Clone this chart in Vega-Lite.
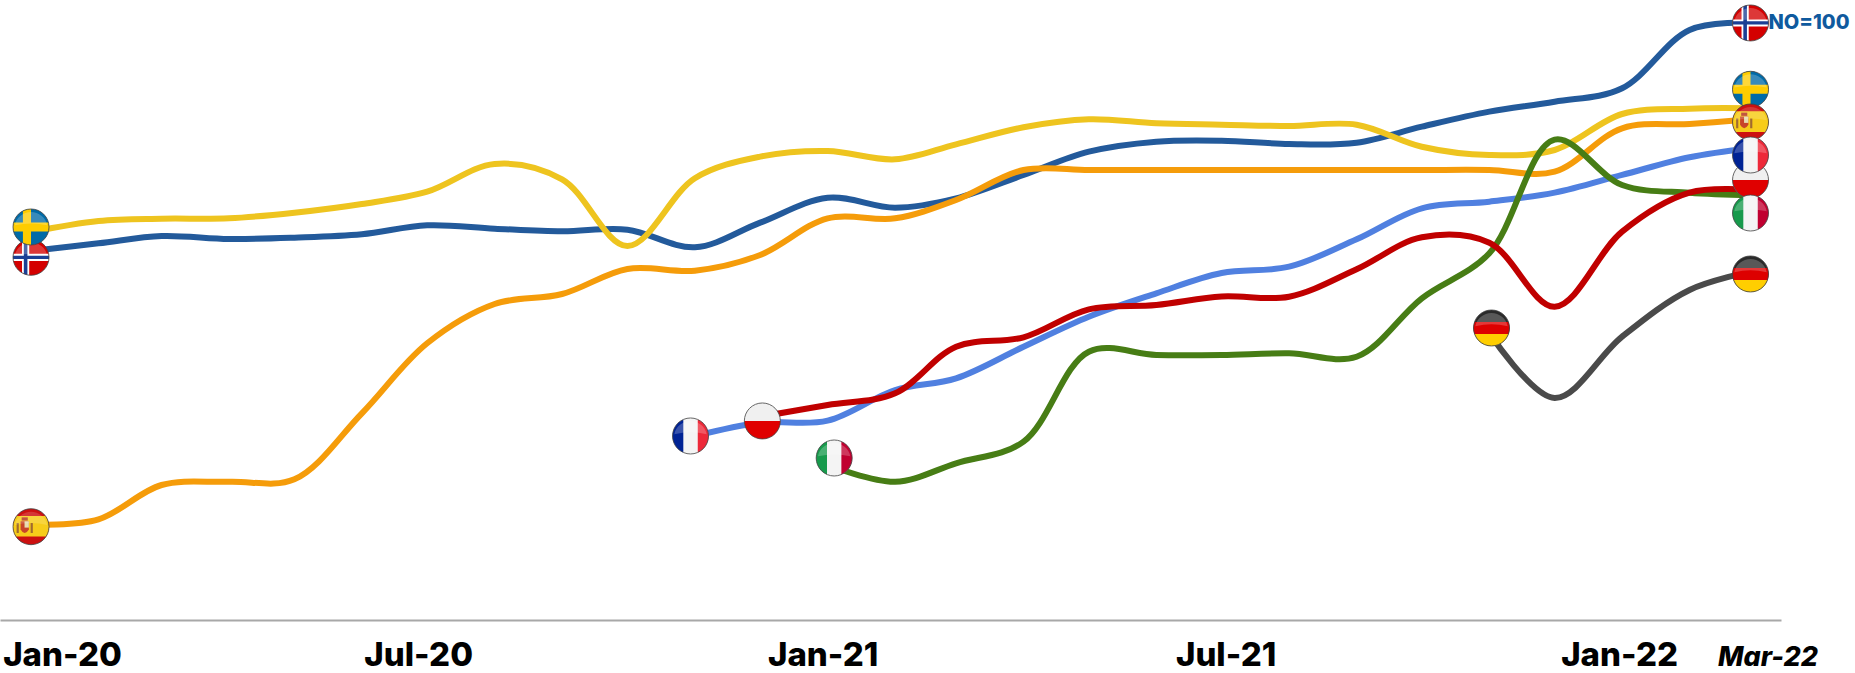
{"$schema":"https://vega.github.io/schema/vega-lite/v6.json","width":1781,"height":620,"autosize":"none","padding":{"left":0,"top":0,"right":74,"bottom":53},"background":"white","config":{"view":{"stroke":null}},
"datasets":{"series":[
{"c":"Germany","d":"2021-11-01","v":48.28},{"c":"Germany","d":"2021-12-01","v":37.45},{"c":"Germany","d":"2022-01-01","v":47.67},{"c":"Germany","d":"2022-02-01","v":55.45},{"c":"Germany","d":"2022-03-01","v":58.5},
{"c":"Norway","d":"2020-01-01","v":61.95},{"c":"Norway","d":"2020-02-01","v":63.23},{"c":"Norway","d":"2020-03-01","v":64.45},{"c":"Norway","d":"2020-04-01","v":63.95},{"c":"Norway","d":"2020-05-01","v":64.17},{"c":"Norway","d":"2020-06-01","v":64.73},{"c":"Norway","d":"2020-07-01","v":66.23},{"c":"Norway","d":"2020-08-01","v":65.67},{"c":"Norway","d":"2020-09-01","v":65.23},{"c":"Norway","d":"2020-10-01","v":65.5},{"c":"Norway","d":"2020-11-01","v":62.57},{"c":"Norway","d":"2020-12-01","v":66.67},{"c":"Norway","d":"2021-01-01","v":70.83},{"c":"Norway","d":"2021-02-01","v":69.17},{"c":"Norway","d":"2021-03-01","v":70.73},{"c":"Norway","d":"2021-04-01","v":74.62},{"c":"Norway","d":"2021-05-01","v":78.5},{"c":"Norway","d":"2021-06-01","v":80.17},{"c":"Norway","d":"2021-07-01","v":80.33},{"c":"Norway","d":"2021-08-01","v":79.78},{"c":"Norway","d":"2021-09-01","v":80},{"c":"Norway","d":"2021-10-01","v":82.67},{"c":"Norway","d":"2021-11-01","v":85.17},{"c":"Norway","d":"2021-12-01","v":86.83},{"c":"Norway","d":"2022-01-01","v":89.07},{"c":"Norway","d":"2022-02-01","v":98.78},{"c":"Norway","d":"2022-03-01","v":100},
{"c":"France","d":"2020-11-01","v":31.12},{"c":"France","d":"2020-12-01","v":33.33},{"c":"France","d":"2021-01-01","v":33.67},{"c":"France","d":"2021-02-01","v":38.78},{"c":"France","d":"2021-03-01","v":40.73},{"c":"France","d":"2021-04-01","v":46},{"c":"France","d":"2021-05-01","v":51},{"c":"France","d":"2021-06-01","v":54.9},{"c":"France","d":"2021-07-01","v":58.28},{"c":"France","d":"2021-08-01","v":59.33},{"c":"France","d":"2021-09-01","v":63.9},{"c":"France","d":"2021-10-01","v":69.07},{"c":"France","d":"2021-11-01","v":70.17},{"c":"France","d":"2021-12-01","v":71.67},{"c":"France","d":"2022-01-01","v":74.62},{"c":"France","d":"2022-02-01","v":77.57},{"c":"France","d":"2022-03-01","v":79.07},
{"c":"Spain","d":"2020-01-01","v":16.28},{"c":"Spain","d":"2020-02-01","v":17.23},{"c":"Spain","d":"2020-03-01","v":22.95},{"c":"Spain","d":"2020-04-01","v":23.5},{"c":"Spain","d":"2020-05-01","v":23.9},{"c":"Spain","d":"2020-06-01","v":34.9},{"c":"Spain","d":"2020-07-01","v":46.57},{"c":"Spain","d":"2020-08-01","v":53.12},{"c":"Spain","d":"2020-09-01","v":54.78},{"c":"Spain","d":"2020-10-01","v":58.95},{"c":"Spain","d":"2020-11-01","v":58.67},{"c":"Spain","d":"2020-12-01","v":61.28},{"c":"Spain","d":"2021-01-01","v":67.4},{"c":"Spain","d":"2021-02-01","v":67.4},{"c":"Spain","d":"2021-03-01","v":70.45},{"c":"Spain","d":"2021-04-01","v":75.45},{"c":"Spain","d":"2021-05-01","v":75.45},{"c":"Spain","d":"2021-06-01","v":75.45},{"c":"Spain","d":"2021-07-01","v":75.45},{"c":"Spain","d":"2021-08-01","v":75.45},{"c":"Spain","d":"2021-09-01","v":75.45},{"c":"Spain","d":"2021-10-01","v":75.45},{"c":"Spain","d":"2021-11-01","v":75.45},{"c":"Spain","d":"2021-12-01","v":75.17},{"c":"Spain","d":"2022-01-01","v":82.4},{"c":"Spain","d":"2022-02-01","v":83.12},{"c":"Spain","d":"2022-03-01","v":83.9},
{"c":"Sweden","d":"2020-01-01","v":65.1},{"c":"Sweden","d":"2020-02-01","v":66.95},{"c":"Sweden","d":"2020-03-01","v":67.33},{"c":"Sweden","d":"2020-04-01","v":67.4},{"c":"Sweden","d":"2020-05-01","v":68.33},{"c":"Sweden","d":"2020-06-01","v":69.78},{"c":"Sweden","d":"2020-07-01","v":71.83},{"c":"Sweden","d":"2020-08-01","v":76.45},{"c":"Sweden","d":"2020-09-01","v":73.9},{"c":"Sweden","d":"2020-10-01","v":62.78},{"c":"Sweden","d":"2020-11-01","v":74.07},{"c":"Sweden","d":"2020-12-01","v":77.67},{"c":"Sweden","d":"2021-01-01","v":78.62},{"c":"Sweden","d":"2021-02-01","v":77.23},{"c":"Sweden","d":"2021-03-01","v":79.73},{"c":"Sweden","d":"2021-04-01","v":82.57},{"c":"Sweden","d":"2021-05-01","v":83.9},{"c":"Sweden","d":"2021-06-01","v":83.23},{"c":"Sweden","d":"2021-07-01","v":83},{"c":"Sweden","d":"2021-08-01","v":82.78},{"c":"Sweden","d":"2021-09-01","v":83},{"c":"Sweden","d":"2021-10-01","v":79.33},{"c":"Sweden","d":"2021-11-01","v":77.95},{"c":"Sweden","d":"2021-12-01","v":78.78},{"c":"Sweden","d":"2022-01-01","v":84.78},{"c":"Sweden","d":"2022-02-01","v":85.67},{"c":"Sweden","d":"2022-03-01","v":85.73},
{"c":"Italy","d":"2021-01-01","v":26.28},{"c":"Italy","d":"2021-02-01","v":23.5},{"c":"Italy","d":"2021-03-01","v":26.57},{"c":"Italy","d":"2021-04-01","v":30.17},{"c":"Italy","d":"2021-05-01","v":45.17},{"c":"Italy","d":"2021-06-01","v":44.62},{"c":"Italy","d":"2021-07-01","v":44.62},{"c":"Italy","d":"2021-08-01","v":44.9},{"c":"Italy","d":"2021-09-01","v":44.33},{"c":"Italy","d":"2021-10-01","v":54.07},{"c":"Italy","d":"2021-11-01","v":61.57},{"c":"Italy","d":"2021-12-01","v":80.5},{"c":"Italy","d":"2022-01-01","v":72.95},{"c":"Italy","d":"2022-02-01","v":71.67},{"c":"Italy","d":"2022-03-01","v":71.28},
{"c":"Poland","d":"2020-12-01","v":34.33},{"c":"Poland","d":"2021-01-01","v":36.28},{"c":"Poland","d":"2021-02-01","v":38.23},{"c":"Poland","d":"2021-03-01","v":46},{"c":"Poland","d":"2021-04-01","v":47.57},{"c":"Poland","d":"2021-05-01","v":52.23},{"c":"Poland","d":"2021-06-01","v":52.95},{"c":"Poland","d":"2021-07-01","v":54.37},{"c":"Poland","d":"2021-08-01","v":54.33},{"c":"Poland","d":"2021-09-01","v":58.9},{"c":"Poland","d":"2021-10-01","v":64.23},{"c":"Poland","d":"2021-11-01","v":63.33},{"c":"Poland","d":"2021-12-01","v":52.67},{"c":"Poland","d":"2022-01-01","v":65.17},{"c":"Poland","d":"2022-02-01","v":71.67},{"c":"Poland","d":"2022-03-01","v":72.12}
],
"flags":[
{"c":"Norway","d":"2020-01-01","v":60.9},{"c":"Sweden","d":"2020-01-01","v":65.95},{"c":"Spain","d":"2020-01-01","v":16},{"c":"France","d":"2020-10-30","v":31.12},{"c":"Poland","d":"2020-12-02","v":33.62},{"c":"Italy","d":"2021-01-04","v":27.45},{"c":"Germany","d":"2021-11-02","v":49.12},
{"c":"Norway","d":"2022-03-01","v":99.95,"label":"NO=100"},{"c":"Sweden","d":"2022-03-01","v":88.9},{"c":"Spain","d":"2022-03-01","v":83.45},{"c":"France","d":"2022-03-01","v":77.95},{"c":"Poland","d":"2022-03-01","v":73.78},{"c":"Italy","d":"2022-03-01","v":68.28},{"c":"Germany","d":"2022-03-01","v":58.12}
]},
"encoding":{"x":{"field":"d","type":"temporal","scale":{"type":"utc","domain":["2019-12-17T18:00:00Z","2022-03-15T00:00:00Z"]},"axis":{"title":null,"grid":false,"ticks":false,"domainColor":"#a8a8a8","domainWidth":2,"values":["2020-01-01","2020-07-01","2021-01-01","2021-07-01","2022-01-01","2022-03-01"],"labelExpr":"utcFormat(datum.value,'%b-%y')","labelOverlap":false,"labelFlush":false,"labelBound":false,"labelFont":"Inter","labelColor":"#000000","labelPadding":45,"labelBaseline":"alphabetic","labelFontWeight":800,"labelFontSize":{"expr":"utcmonth(datum.value)==2?27:33"},"labelFontStyle":{"expr":"utcmonth(datum.value)==2?'italic':'normal'"},"labelOffset":{"expr":"utcmonth(datum.value)==2?17:(utcyear(datum.value)==2020&&utcmonth(datum.value)==0?31:(utcyear(datum.value)==2020?-9:(utcyear(datum.value)==2021&&utcmonth(datum.value)==0?-5:(utcyear(datum.value)==2021?4:-3))))"}}},"y":{"field":"v","type":"quantitative","scale":{"domain":[0.45,103.78],"nice":false,"zero":false},"axis":null}},
"layer":[
{"data":{"name":"series"},"mark":{"type":"line","interpolate":"catmull-rom","strokeWidth":6,"strokeCap":"round"},"encoding":{"color":{"field":"c","type":"nominal","legend":null,"scale":{"domain":["Germany","Norway","France","Spain","Sweden","Italy","Poland"],"range":["#4a4a4a","#235a9b","#5080e0","#f59c0a","#eec41f","#477d15","#c00000"]}}}},
{"data":{"name":"flags"},"transform":[{"filter":"datum.c=='Norway'"}],"layer":[
{"mark":{"type":"point","shape":"circle","size":1296,"filled":true,"color":"#d40000","opacity":1,"strokeWidth":0}},
{"mark":{"type":"point","shape":"M-.5 -.866A1 1 0 0 1 -.1 -.995L-.1 .995A1 1 0 0 1 -.5 .866Z","size":1296,"filled":true,"color":"#ffffff","opacity":1,"strokeWidth":0}},
{"mark":{"type":"point","shape":"M-.98 -.2L.98 -.2A1 1 0 0 1 .98 .2L-.98 .2A1 1 0 0 1 -.98 -.2Z","size":1296,"filled":true,"color":"#ffffff","opacity":1,"strokeWidth":0}},
{"mark":{"type":"point","shape":"M-.4 -.917A1 1 0 0 1 -.2 -.98L-.2 .98A1 1 0 0 1 -.4 .917Z","size":1296,"filled":true,"color":"#1b3f94","opacity":1,"strokeWidth":0}},
{"mark":{"type":"point","shape":"M-.996 -.09L.996 -.09A1 1 0 0 1 .996 .09L-.996 .09A1 1 0 0 1 -.996 -.09Z","size":1296,"filled":true,"color":"#1b3f94","opacity":1,"strokeWidth":0}},
{"mark":{"type":"point","shape":"M-.9 -.1A.92 .92 0 0 1 .9 -.1Q0 -.3 -.9 -.1Z","size":1296,"filled":true,"color":"#ffffff","opacity":0.22,"strokeWidth":0}},
{"mark":{"type":"point","shape":"circle","size":1296,"filled":false,"color":"#444444","opacity":0.8,"strokeWidth":1}}
]},
{"data":{"name":"flags"},"transform":[{"filter":"datum.c=='Sweden'"}],"layer":[
{"mark":{"type":"point","shape":"circle","size":1296,"filled":true,"color":"#006aa7","opacity":1,"strokeWidth":0}},
{"mark":{"type":"point","shape":"M-.45 -.893A1 1 0 0 1 0 -1L0 1A1 1 0 0 1 -.45 .893Z","size":1296,"filled":true,"color":"#fecc00","opacity":1,"strokeWidth":0}},
{"mark":{"type":"point","shape":"M-.968 -.25L.968 -.25A1 1 0 0 1 .968 .25L-.968 .25A1 1 0 0 1 -.968 -.25Z","size":1296,"filled":true,"color":"#fecc00","opacity":1,"strokeWidth":0}},
{"mark":{"type":"point","shape":"M-.9 -.1A.92 .92 0 0 1 .9 -.1Q0 -.3 -.9 -.1Z","size":1296,"filled":true,"color":"#ffffff","opacity":0.22,"strokeWidth":0}},
{"mark":{"type":"point","shape":"circle","size":1296,"filled":false,"color":"#444444","opacity":0.8,"strokeWidth":1}}
]},
{"data":{"name":"flags"},"transform":[{"filter":"datum.c=='Spain'"}],"layer":[
{"mark":{"type":"point","shape":"circle","size":1296,"filled":true,"color":"#cc1010","opacity":1,"strokeWidth":0}},
{"mark":{"type":"point","shape":"M-.8 -.6L.8 -.6A1 1 0 0 1 .835 .55L-.835 .55A1 1 0 0 1 -.8 -.6Z","size":1296,"filled":true,"color":"#f7cc1a","opacity":1,"strokeWidth":0}},
{"mark":{"type":"point","shape":"M-.58 -.3L-.12 -.3L-.12 .15Q-.35 .55 -.58 .15Z","size":1296,"filled":true,"color":"#c8452a","opacity":1,"strokeWidth":0}},
{"mark":{"type":"point","shape":"M-.36 -.3L-.12 -.3L-.12 .05L-.36 .05Z","size":1296,"filled":true,"color":"#e8dcb0","opacity":1,"strokeWidth":0}},
{"mark":{"type":"point","shape":"M-.52 -.52L-.18 -.52L-.18 -.34L-.52 -.34Z","size":1296,"filled":true,"color":"#b5341c","opacity":1,"strokeWidth":0}},
{"mark":{"type":"point","shape":"M-.8 -.2L-.68 -.2L-.68 .35L-.8 .35ZM-.02 -.2L.1 -.2L.1 .35L-.02 .35Z","size":1296,"filled":true,"color":"#a06a30","opacity":1,"strokeWidth":0}},
{"mark":{"type":"point","shape":"M-.9 -.1A.92 .92 0 0 1 .9 -.1Q0 -.3 -.9 -.1Z","size":1296,"filled":true,"color":"#ffffff","opacity":0.16,"strokeWidth":0}},
{"mark":{"type":"point","shape":"circle","size":1296,"filled":false,"color":"#444444","opacity":0.8,"strokeWidth":1}}
]},
{"data":{"name":"flags"},"transform":[{"filter":"datum.c=='Poland'"}],"layer":[
{"mark":{"type":"point","shape":"circle","size":1296,"filled":true,"color":"#f0f0f0","opacity":1,"strokeWidth":0}},
{"mark":{"type":"point","shape":"M-1 0L1 0A1 1 0 0 1 -1 0Z","size":1296,"filled":true,"color":"#e00000","opacity":1,"strokeWidth":0}},
{"mark":{"type":"point","shape":"circle","size":1296,"filled":false,"color":"#444444","opacity":0.8,"strokeWidth":1}}
]},
{"data":{"name":"flags"},"transform":[{"filter":"datum.c=='France'"}],"layer":[
{"mark":{"type":"point","shape":"circle","size":1296,"filled":true,"color":"#f4f4f4","opacity":1,"strokeWidth":0}},
{"mark":{"type":"point","shape":"M-.4 -.917A1 1 0 0 0 -.4 .917Z","size":1296,"filled":true,"color":"#002395","opacity":1,"strokeWidth":0}},
{"mark":{"type":"point","shape":"M.4 -.917A1 1 0 0 1 .4 .917Z","size":1296,"filled":true,"color":"#ed2939","opacity":1,"strokeWidth":0}},
{"mark":{"type":"point","shape":"M-.9 -.1A.92 .92 0 0 1 .9 -.1Q0 -.3 -.9 -.1Z","size":1296,"filled":true,"color":"#ffffff","opacity":0.22,"strokeWidth":0}},
{"mark":{"type":"point","shape":"circle","size":1296,"filled":false,"color":"#444444","opacity":0.8,"strokeWidth":1}}
]},
{"data":{"name":"flags"},"transform":[{"filter":"datum.c=='Italy'"}],"layer":[
{"mark":{"type":"point","shape":"circle","size":1296,"filled":true,"color":"#f4f4f4","opacity":1,"strokeWidth":0}},
{"mark":{"type":"point","shape":"M-.4 -.917A1 1 0 0 0 -.4 .917Z","size":1296,"filled":true,"color":"#179a4c","opacity":1,"strokeWidth":0}},
{"mark":{"type":"point","shape":"M.4 -.917A1 1 0 0 1 .4 .917Z","size":1296,"filled":true,"color":"#c00030","opacity":1,"strokeWidth":0}},
{"mark":{"type":"point","shape":"M-.9 -.1A.92 .92 0 0 1 .9 -.1Q0 -.3 -.9 -.1Z","size":1296,"filled":true,"color":"#ffffff","opacity":0.22,"strokeWidth":0}},
{"mark":{"type":"point","shape":"circle","size":1296,"filled":false,"color":"#444444","opacity":0.8,"strokeWidth":1}}
]},
{"data":{"name":"flags"},"transform":[{"filter":"datum.c=='Germany'"}],"layer":[
{"mark":{"type":"point","shape":"circle","size":1296,"filled":true,"color":"#2a2a2a","opacity":1,"strokeWidth":0}},
{"mark":{"type":"point","shape":"M-.944 -.33L.944 -.33A1 1 0 0 1 .944 .33L-.944 .33A1 1 0 0 1 -.944 -.33Z","size":1296,"filled":true,"color":"#dd0000","opacity":1,"strokeWidth":0}},
{"mark":{"type":"point","shape":"M-.944 .33L.944 .33A1 1 0 0 1 -.944 .33Z","size":1296,"filled":true,"color":"#ffce00","opacity":1,"strokeWidth":0}},
{"mark":{"type":"point","shape":"M-.9 -.1A.92 .92 0 0 1 .9 -.1Q0 -.3 -.9 -.1Z","size":1296,"filled":true,"color":"#ffffff","opacity":0.22,"strokeWidth":0}},
{"mark":{"type":"point","shape":"circle","size":1296,"filled":false,"color":"#444444","opacity":0.8,"strokeWidth":1}}
]},
{"data":{"name":"flags"},"transform":[{"filter":"isValid(datum.label)"}],"mark":{"type":"text","align":"left","baseline":"middle","dx":18,"font":"Inter","fontWeight":800,"fontSize":20,"color":"#0f5a9e"},"encoding":{"text":{"field":"label"}}}
]}
